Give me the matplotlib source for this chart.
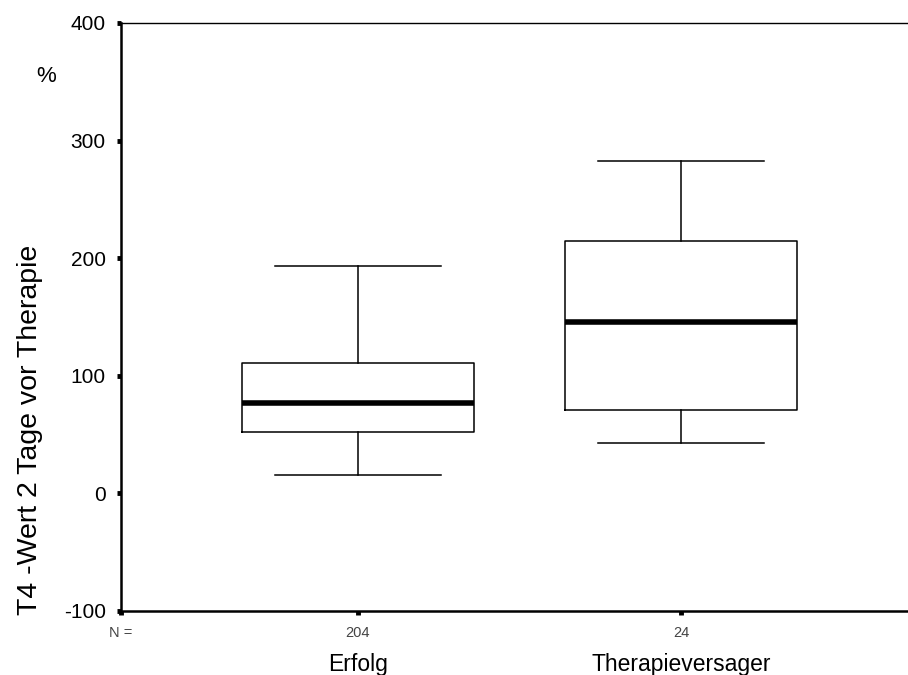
import matplotlib
matplotlib.use("Agg")
import matplotlib.pyplot as plt
import matplotlib.transforms as mtransforms

plt.rcParams['font.family'] = ['Liberation Sans', 'DejaVu Sans']

categories = ["Erfolg", "Therapieversager"]
counts = [204, 24]
whisker_low = [16, 43]
q1 = [52, 71]
median = [77, 146]
q3 = [111, 215]
whisker_high = [193, 283]
yticks = [-100, 0, 100, 200, 300, 400]

stats = []
for i, c in enumerate(categories):
    stats.append(dict(label=c, whislo=whisker_low[i], q1=q1[i], med=median[i],
                      q3=q3[i], whishi=whisker_high[i], fliers=[]))

fig = plt.figure(figsize=(9.08, 6.75), dpi=100)
ax = fig.add_axes([121/908, 1 - 611/675, 1 - 121/908, (611-23)/675])

ax.bxp(stats, positions=[1, 2], widths=0.718, showfliers=False,
       boxprops=dict(color='black', linewidth=1.1),
       whiskerprops=dict(color='black', linewidth=1.1),
       capprops=dict(color='black', linewidth=1.1),
       medianprops=dict(color='black', linewidth=4.0, solid_capstyle='butt'),
       capwidths=0.511)

ax.set_ylim(-100, 400)
ax.set_xlim(1 - 237/323, 2 + 227/323)
ax.set_yticks(yticks)
ax.set_yticklabels([str(v) for v in yticks], fontsize=15)
ax.set_xticks([1 - 237/323, 1, 2])
ax.set_xticklabels(["N ="] + [str(n) for n in counts], fontsize=10.5, color='#444444')
ax.tick_params(axis='y', length=3, width=3.5, direction='out', pad=8)
ax.tick_params(axis='x', length=3, width=3.5, direction='out', pad=8)

ax.spines['left'].set_linewidth(1.8)
ax.spines['bottom'].set_linewidth(1.8)
ax.spines['top'].set_linewidth(1.0)
ax.spines['right'].set_visible(False)

offset = mtransforms.ScaledTranslation(0, -60/100, fig.dpi_scale_trans)
for i, c in enumerate(categories):
    ax.text(i + 1, -100, c, transform=ax.transData + offset, ha='center', va='baseline',
            fontsize=16.5)

fig.text(30/908, 1 - 430/675, "T4 -Wert 2 Tage vor Therapie", rotation=90,
         ha='center', va='center', fontsize=20.5)
fig.text(46/908, 1 - 76/675, "%", ha='center', va='center', fontsize=16)

fig.savefig("out.png", dpi=100)
